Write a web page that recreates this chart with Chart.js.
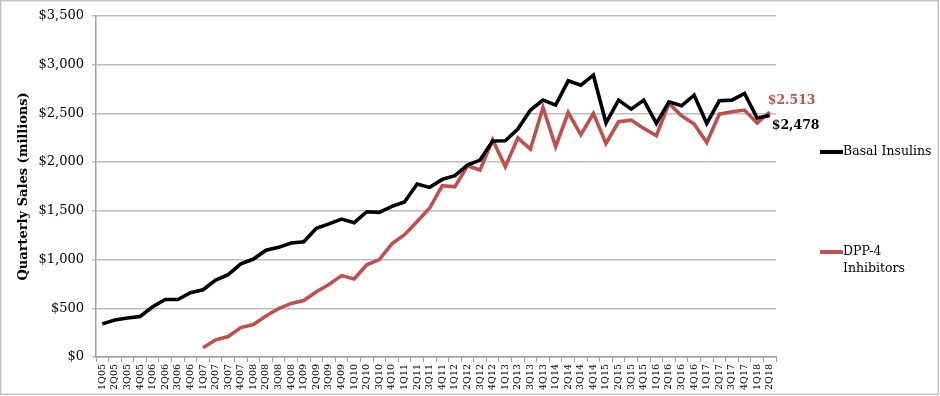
<!DOCTYPE html>
<html>
<head>
<meta charset="utf-8">
<script src="https://cdn.jsdelivr.net/npm/chart.js@4/dist/chart.umd.min.js"></script>
<style>
html,body{margin:0;padding:0;background:#fff;}
#wrap{width:940px;height:396px;position:relative;}
</style>
</head>
<body>
<div id="wrap"><canvas id="c" width="940" height="396"></canvas></div>
<script>
const quarters = ["1Q05","2Q05","3Q05","4Q05","1Q06","2Q06","3Q06","4Q06","1Q07","2Q07","3Q07","4Q07",
  "1Q08","2Q08","3Q08","4Q08","1Q09","2Q09","3Q09","4Q09","1Q10","2Q10","3Q10","4Q10",
  "1Q11","2Q11","3Q11","4Q11","1Q12","2Q12","3Q12","4Q12","1Q13","2Q13","3Q13","4Q13",
  "1Q14","2Q14","3Q14","4Q14","1Q15","2Q15","3Q15","4Q15","1Q16","2Q16","3Q16","4Q16",
  "1Q17","2Q17","3Q17","4Q17","1Q18","2Q18"];

const basalInsulins = [340,380,400,415,515,590,590,660,690,790,845,955,
  1005,1095,1125,1170,1183,1320,1365,1415,1378,1490,1484,1545,
  1590,1775,1740,1822,1860,1969,2020,2215,2218,2338,2533,2635,
  2584,2833,2789,2891,2400,2635,2543,2635,2396,2618,2577,2686,
  2396,2628,2635,2703,2451,2478];

const dpp4Inhibitors = [null,null,null,null,null,null,null,null,94,176,210,302,
  333,420,497,550,579,670,743,835,801,945,999,1160,
  1255,1391,1528,1757,1745,1962,1918,2228,1952,2246,2133,2560,
  2157,2508,2280,2498,2190,2413,2430,2345,2270,2600,2474,2389,
  2200,2491,2515,2533,2400,2513];

const seriesNames = ["Basal Insulins", "DPP-4 Inhibitors"];
const endLabels = ["$2,478", "$2.513"];
const yTicks = [0,500,1000,1500,2000,2500,3000,3500];

const BLACK = "#000000";
const RED = "#c0504d";
const SERIF = "'DejaVu Serif', serif";

const decor = {
  id: 'decor',
  afterDraw(chart) {
    const ctx = chart.ctx;
    const x = chart.scales.x, y = chart.scales.y;
    const last = quarters.length - 1;
    const px = x.getPixelForValue(last);
    ctx.save();
    // frame
    ctx.strokeStyle = "#c4c4c4";
    ctx.lineWidth = 1.5;
    ctx.strokeRect(0.75, 0.75, 937.5, 393.5);
    // end labels
    ctx.font = "bold 12.5px " + SERIF;
    ctx.textBaseline = "middle";
    ctx.textAlign = "left";
    ctx.fillStyle = RED;
    ctx.fillText(endLabels[1], px - 2, y.getPixelForValue(dpp4Inhibitors[last]) - 11);
    ctx.fillStyle = BLACK;
    ctx.fillText(endLabels[0], px + 2, y.getPixelForValue(basalInsulins[last]) + 10);
    // legend
    ctx.font = "12.5px " + SERIF;
    ctx.lineWidth = 4;
    ctx.strokeStyle = BLACK;
    ctx.beginPath(); ctx.moveTo(820, 152); ctx.lineTo(843, 152); ctx.stroke();
    ctx.fillStyle = BLACK;
    ctx.fillText(seriesNames[0], 843, 152);
    ctx.strokeStyle = RED;
    ctx.beginPath(); ctx.moveTo(820, 252); ctx.lineTo(843, 252); ctx.stroke();
    const parts = seriesNames[1].split(" ");
    ctx.fillText(parts[0], 843, 252);
    ctx.fillText(parts[1], 843, 269);
    ctx.restore();
  }
};

new Chart(document.getElementById('c'), {
  type: 'line',
  data: {
    labels: quarters,
    datasets: [
      { label: seriesNames[0], data: basalInsulins, borderColor: BLACK, backgroundColor: BLACK,
        borderWidth: 3.6, pointRadius: 0, tension: 0, spanGaps: false },
      { label: seriesNames[1], data: dpp4Inhibitors, borderColor: RED, backgroundColor: RED,
        borderWidth: 3.6, pointRadius: 0, tension: 0, spanGaps: false }
    ]
  },
  options: {
    responsive: false,
    animation: false,
    devicePixelRatio: 1,
    layout: { padding: { left: 16, right: 164, top: 15, bottom: 0 } },
    plugins: { legend: { display: false }, tooltip: { enabled: false } },
    scales: {
      x: {
        type: 'category',
        offset: true,
        grid: { display: true, offset: true, drawOnChartArea: false, drawTicks: true,
                tickLength: 5, color: '#a0a0a0', lineWidth: 1 },
        border: { display: true, color: '#a0a0a0', width: 1.5 },
        ticks: { autoSkip: false, minRotation: 90, maxRotation: 90, padding: 2,
                 color: '#000', font: { family: SERIF, size: 9.5 } },
        afterFit(s) { s.height = 39; }
      },
      y: {
        min: 0, max: 3500,
        afterBuildTicks(s) { s.ticks = yTicks.map(v => ({ value: v })); },
        grid: { color: '#bdbdbd', lineWidth: 1.5, drawTicks: true, tickLength: 4 },
        border: { display: true, color: '#a0a0a0', width: 1.5 },
        ticks: { color: '#000', padding: 8, font: { family: SERIF, size: 13 },
                 callback: v => '$' + Number(v).toLocaleString('en-US') },
        title: { display: true, text: 'Quarterly Sales (millions)', color: '#000',
                 font: { family: SERIF, size: 13, weight: 'bold' }, padding: { top: 0, bottom: 4 } },
        afterFit(s) { s.width = 80; }
      }
    }
  },
  plugins: [decor]
});
</script>
</body>
</html>
